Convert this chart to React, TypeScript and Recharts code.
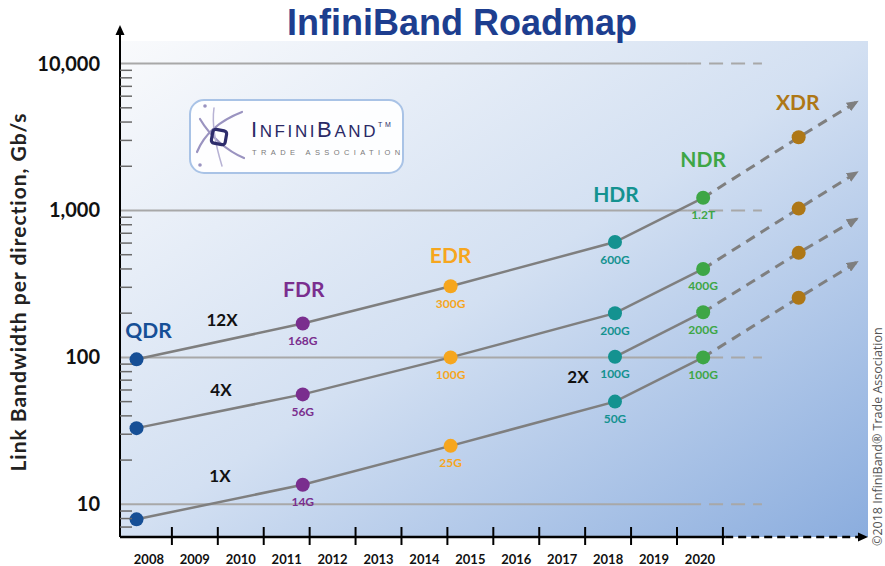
import { LineChart, Line, XAxis, YAxis, ReferenceLine } from "recharts";

// generations and where they sit on the time axis
const generations = ["QDR", "FDR", "EDR", "HDR", "NDR", "XDR"];
const genYears = [2007.73, 2011.35, 2014.57, 2018.15, 2020.07, 2022.15];
const arrowYear = 2023.42;

// link widths, bandwidth per direction (Gb/s)
const lanes = ["12X", "4X", "2X", "1X"];
const bw12x = [97, 170, 305, 610, 1220, 3150];
const bw4x = [33, 56, 100, 200, 400, 1030];
const bw2x = [null, null, null, 101, 203, 515];
const bw1x = [7.9, 13.6, 25, 50, 100, 255];
const arrowTips = [5500, 1820, 880, 445];

const labels12x = ["", "168G", "300G", "600G", "1.2T", ""];
const labels4x = ["", "56G", "100G", "200G", "400G", ""];
const labels2x = ["", "", "", "100G", "200G", ""];
const labels1x = ["", "14G", "25G", "50G", "100G", ""];

const years = [2008, 2009, 2010, 2011, 2012, 2013, 2014, 2015, 2016, 2017, 2018, 2019, 2020];
const yMajor = [10, 100, 1000, 10000];
const yMinor = [7, 8, 9, 20, 30, 40, 50, 60, 70, 80, 90, 200, 300, 400, 500, 600, 700, 800, 900,
  2000, 3000, 4000, 5000, 6000, 7000, 8000, 9000];

const X_MIN = 2007.37;
const X_MAX = 2023.66;
const Y_MIN = 5.99;
const Y_MAX = 16930;
const PLOT_W = 748;
const HALF_YEAR = (0.5 * PLOT_W) / (X_MAX - X_MIN);

const GRID_SOLID_END = 2019.72;
const GRID_DASH_END = 2021.35;
const AXIS_SOLID_END = 2020.55;
const AXIS_DASH_END = 2023.45;

const FONT = "Lato, 'Open Sans', sans-serif";
const LINE_GRAY = "#7f7f7f";

const genStyle: Record<string, { color: string; dx: number; dy: number }> = {
  QDR: { color: "#164f96", dx: 12, dy: -30 },
  FDR: { color: "#7a2e8e", dx: 1, dy: -35 },
  EDR: { color: "#f6a61e", dx: 0, dy: -32 },
  HDR: { color: "#149290", dx: 1, dy: -49 },
  NDR: { color: "#3ea646", dx: 0, dy: -39 },
  XDR: { color: "#ae7716", dx: -1, dy: -36 },
};

const laneValues = [bw12x, bw4x, bw2x, bw1x];
const laneLabels = [labels12x, labels4x, labels2x, labels1x];

const series = laneValues.map((vals, li) => {
  const pts = vals
    .map((v, i) => ({ year: genYears[i], bw: v, gen: generations[i], label: laneLabels[li][i], lane: lanes[li] }))
    .filter((p) => p.bw != null);
  const solid = pts.filter((p) => p.gen !== "XDR");
  const dashed = [
    ...pts.filter((p) => p.gen === "NDR" || p.gen === "XDR"),
    { year: arrowYear, bw: arrowTips[li], gen: "tip", label: "", lane: lanes[li] },
  ];
  return { lane: lanes[li], solid, dashed };
});

function GenDot(props: any, skipNdr: boolean) {
  const { cx, cy, payload, index } = props;
  const key = `${payload.lane}-${payload.gen}-${index}`;
  if (payload.gen === "tip" || (skipNdr && payload.gen === "NDR")) return <g key={key} />;
  const st = genStyle[payload.gen];
  return (
    <g key={key}>
      <circle cx={cx} cy={cy} r={7} fill={st.color} />
      {payload.label && (
        <text x={cx} y={cy + 17} textAnchor="middle" dominantBaseline="central"
          fontFamily={FONT} fontWeight={700} fontSize={12} fill={st.color}>
          {payload.label}
        </text>
      )}
      {payload.lane === "12X" && (
        <text x={cx + st.dx} y={cy + st.dy} textAnchor="middle" dominantBaseline="central"
          fontFamily={FONT} fontWeight={700} fontSize={21} fill={st.color}>
          {payload.gen}
        </text>
      )}
    </g>
  );
}

function YearTick({ x, y, payload }: any) {
  return (
    <g>
      <line x1={x + HALF_YEAR} x2={x + HALF_YEAR} y1={y - 10} y2={y + 8} stroke="#000" strokeWidth={2} />
      <text x={x} y={y + 22} textAnchor="middle" dominantBaseline="central"
        fontFamily={FONT} fontWeight={700} fontSize={13} fill="#111">
        {payload.value}
      </text>
    </g>
  );
}

function BwTick({ x, y, payload }: any) {
  const v = payload.value;
  const major = yMajor.includes(v);
  return (
    <g>
      {!major && <line x1={x} x2={x + 12} y1={y} y2={y} stroke="#6a6a6a" strokeWidth={1.5} />}
      {major && (
        <text x={x - 20} y={y} dy="0.35em" textAnchor="end"
          fontFamily={FONT} fontWeight={700} fontSize={20} fill="#111">
          {v.toLocaleString("en-US")}
        </text>
      )}
    </g>
  );
}

export default function App() {
  return (
    <div style={{ position: "absolute", left: 0, top: 0, width: 885, height: 566, background: "#fff" }}>
      <div
        style={{
          position: "absolute", left: 120, top: 41, width: 748, height: 496,
          background: "linear-gradient(to bottom right, #f9fafc 0%, #d3e0f2 50%, #8badde 100%)",
        }}
      />
      <div style={{ position: "absolute", left: 0, top: 0 }}>
        <LineChart width={885} height={566} margin={{ top: 30, right: 17, bottom: 0, left: 0 }}>
          <XAxis type="number" dataKey="year" domain={[X_MIN, X_MAX]} allowDataOverflow
            ticks={years} interval={0} axisLine={false} tickLine={false} tickSize={0} tickMargin={0}
            height={29} tick={(p: any) => <YearTick {...p} />} />
          <YAxis type="number" scale="log" domain={[Y_MIN, Y_MAX]} allowDataOverflow
            ticks={[...yMinor, ...yMajor]} interval={0} width={120}
            axisLine={{ stroke: "#000", strokeWidth: 2 }} tickLine={false} tickSize={0} tickMargin={0}
            tick={(p: any) => <BwTick {...p} />} />

          {yMajor.map((v) => (
            <ReferenceLine key={`gs-${v}`} segment={[{ x: X_MIN, y: v }, { x: GRID_SOLID_END, y: v }]}
              stroke="#a8a8a8" strokeWidth={2} />
          ))}
          {yMajor.map((v) => (
            <ReferenceLine key={`gd-${v}`} segment={[{ x: GRID_SOLID_END, y: v }, { x: GRID_DASH_END, y: v }]}
              stroke="#a8a8a8" strokeWidth={2} strokeDasharray="14 8" />
          ))}
          <ReferenceLine segment={[{ x: X_MIN, y: Y_MIN }, { x: AXIS_SOLID_END, y: Y_MIN }]}
            stroke="#000" strokeWidth={2.5} />
          <ReferenceLine segment={[{ x: AXIS_SOLID_END, y: Y_MIN }, { x: AXIS_DASH_END, y: Y_MIN }]}
            stroke="#000" strokeWidth={2.5} strokeDasharray="8 5" />

          {series.map((s) => (
            <Line key={`d-${s.lane}`} data={s.dashed} dataKey="bw" stroke={LINE_GRAY} strokeWidth={3}
              strokeDasharray="10 7" type="linear" isAnimationActive={false} markerEnd="url(#ibArrow)"
              dot={(p: any) => GenDot(p, true)} activeDot={false} />
          ))}
          {series.map((s) => (
            <Line key={`s-${s.lane}`} data={s.solid} dataKey="bw" stroke={LINE_GRAY} strokeWidth={2.5}
              type="linear" isAnimationActive={false}
              dot={(p: any) => GenDot(p, false)} activeDot={false} />
          ))}
        </LineChart>
      </div>

      <svg width={885} height={566} style={{ position: "absolute", left: 0, top: 0, pointerEvents: "none" }}>
        <defs>
          <marker id="ibArrow" viewBox="0 0 12 10" refX={10} refY={5} markerUnits="userSpaceOnUse"
            markerWidth={12} markerHeight={10} orient="auto">
            <path d="M0,0 L12,5 L0,10 z" fill={LINE_GRAY} />
          </marker>
        </defs>

        <text x={462} y={35} textAnchor="middle" fontFamily="'Liberation Sans', Arial, sans-serif"
          fontWeight={700} fontSize={36} fill="#1d3e8f">
          InfiniBand Roadmap
        </text>

        <text transform="translate(26,292) rotate(-90)" textAnchor="middle" fontFamily={FONT}
          fontWeight={700} fontSize={21} letterSpacing={1} fill="#222">
          Link Bandwidth per direction, Gb/s
        </text>

        {/* axis arrowheads */}
        <path d="M120,25 L115.5,35 L124.5,35 Z" fill="#000" />
        <path d="M868,537 L858,532.5 L858,541.5 Z" fill="#000" />

        {/* lane labels */}
        <g fontFamily={FONT} fontWeight={700} fontSize={17} fill="#111" textAnchor="middle" dominantBaseline="central">
          <text x={222} y={319}>12X</text>
          <text x={221} y={389}>4X</text>
          <text x={220} y={475}>1X</text>
          <text x={578} y={376}>2X</text>
        </g>

        {/* logo */}
        <rect x={190} y={100} width={213} height={73} rx={14} fill="#fff" fillOpacity={0.92}
          stroke="#a9c3e6" strokeWidth={2} />
        <g fill="none" strokeLinecap="round">
          <path d="M197,152 C206,130 224,119 242,112" stroke="#9a93c0" strokeWidth={2.2} />
          <path d="M200,119 C210,136 227,151 244,158" stroke="#9a93c0" strokeWidth={2.2} />
          <path d="M214,108 C212,122 214,140 222,166" stroke="#b7b2d4" strokeWidth={1.5} />
          <rect x={212} y={130} width={14} height={14} rx={3} stroke="#2d2c6b" strokeWidth={3.2}
            transform="rotate(10 219 137)" />
          <circle cx={205} cy={106} r={1.8} fill="#9a93c0" />
          <circle cx={200} cy={165} r={1.8} fill="#9a93c0" />
        </g>
        <text x={251} y={137} fontFamily="'Liberation Sans', Arial, sans-serif" fill="#2b2a66" letterSpacing={2.6}>
          <tspan fontSize={22}>I</tspan>
          <tspan fontSize={17}>NFINI</tspan>
          <tspan fontSize={22}>B</tspan>
          <tspan fontSize={17}>AND</tspan>
          <tspan fontSize={7} dy={-10}>TM</tspan>
        </text>
        <text x={252} y={155} fontFamily="'Liberation Sans', Arial, sans-serif" fontSize={7.5}
          fill="#7a7a7a" letterSpacing={4.4}>
          TRADE ASSOCIATION
        </text>

        <text transform="translate(882,546) rotate(-90)" fontFamily="'Open Sans', sans-serif"
          fontSize={12.5} fill="#555">
          ©2018 InfiniBand® Trade Association
        </text>
      </svg>
    </div>
  );
}
